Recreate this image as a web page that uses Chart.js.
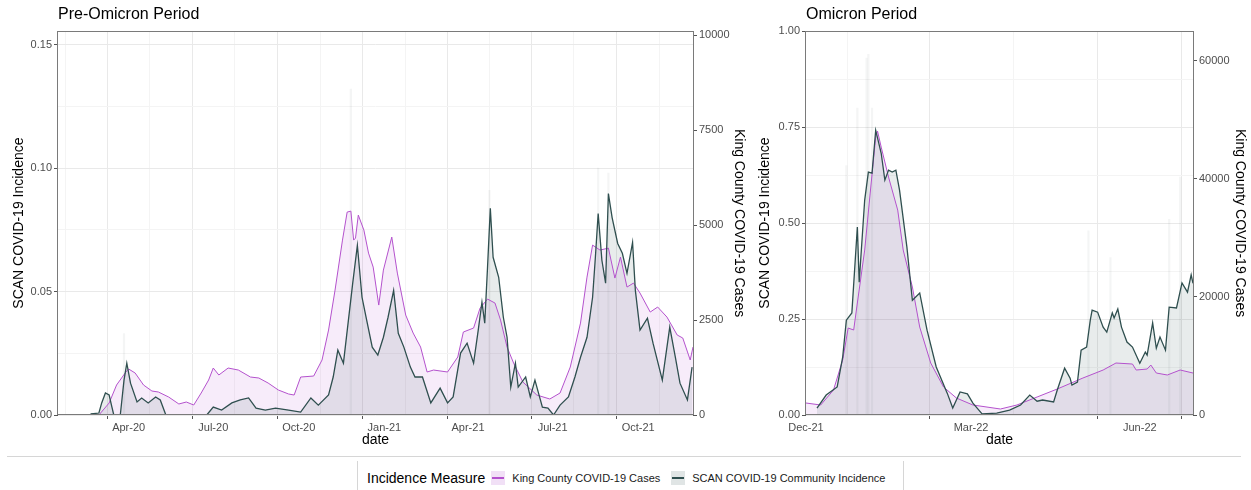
<!DOCTYPE html>
<html>
<head>
<meta charset="utf-8">
<script src="https://cdn.jsdelivr.net/npm/chart.js@4.4.1/dist/chart.umd.min.js"></script>
<style>
  html, body { margin: 0; padding: 0; background: #fff; }
  body { width: 1251px; height: 490px; position: relative; overflow: hidden;
         font-family: "Liberation Sans", Arial, Helvetica, sans-serif; }
  #pre { position: absolute; left: 0; top: 0; }
  #omi { position: absolute; left: 750px; top: 0; }
  .sep { position: absolute; left: 7px; top: 456px; width: 1234px; border-top: 1px solid #d6d6d6; }
  .legend { position: absolute; left: 357px; top: 461px; width: 545px;
            border-left: 1px solid #d6d6d6; border-right: 1px solid #d6d6d6;
            display: flex; align-items: center; height: 34px; }
  .lgTitle { font-size: 14px; color: #000; margin-left: 9px; margin-right: 6px; }
  .key { width: 14px; height: 14px; position: relative; margin-right: 7px; }
  .key::after { content: ""; position: absolute; left: 1px; right: 1px; top: 6px; height: 1.5px; background: var(--line); }
  .lgText { font-size: 11px; color: #1a1a1a; margin-right: 11px; }
</style>
</head>
<body>
<canvas id="pre" width="750" height="455"></canvas>
<canvas id="omi" width="501" height="455"></canvas>
<div class="sep"></div>
<div class="legend" id="legend"></div>

<script>
// ---------- Pre-Omicron period (days counted from preBase) ----------
const preBase = '2020-01-01';
const preRange = ['2020-01-16', '2021-11-29'];
const preTickDates = ['2020-04-01', '2020-07-01', '2020-10-01', '2021-01-01', '2021-04-01', '2021-07-01', '2021-10-01'];
const preTickLabels = ['Apr-20', 'Jul-20', 'Oct-20', 'Jan-21', 'Apr-21', 'Jul-21', 'Oct-21'];
const preIncTicks = [0, 0.05, 0.10, 0.15];
const preIncLabels = ['0.00', '0.05', '0.10', '0.15'];
const preCaseTicks = [0, 2500, 5000, 7500, 10000];

// King County COVID-19 cases (7-day average)
const preKCDays = [59, 70, 78, 88, 91, 98, 107, 116, 123, 134, 145, 153, 161, 169, 177, 182, 188, 198, 209, 222,
  231, 241, 252, 263, 269, 276, 290, 299, 306, 313, 321, 326, 330, 333, 335, 338, 344, 349, 354, 360,
  365, 374, 380, 389, 397, 405, 412, 419, 434, 445, 451, 462, 469, 477, 485, 491, 498, 505, 515, 530,
  544, 555, 566, 577, 584, 590, 598, 607, 614, 620, 627, 634, 641, 652, 660, 670, 681, 687, 695, 698];
const preKC = [0, 316, 790, 1132, 1211, 1105, 790, 632, 605, 474, 290, 342, 263, 579, 921, 1237, 1053, 1237, 1184, 1000,
  974, 842, 658, 553, 526, 1000, 1026, 1448, 2237, 3290, 4606, 5343, 5369, 4606, 4659, 5264, 4869, 4264, 3895, 2895,
  3816, 4685, 3737, 2632, 2158, 1790, 1132, 1184, 1132, 1527, 2185, 2290, 2816, 3053, 2948, 2500, 1790, 1369, 869, 526,
  421, 579, 1263, 2421, 3632, 4474, 4343, 4395, 3606, 4159, 3369, 3474, 3211, 2711, 2843, 2579, 2106, 2027, 1448, 1790];

// SCAN community incidence (smoothed)
const preScanDays = [50, 59, 62, 66, 70, 73, 75, 82, 86, 89, 93, 100, 105, 112, 120, 125, 131, 175, 182, 191,
  202, 211, 220, 228, 238, 249, 263, 276, 287, 295, 306, 311, 316, 322, 327, 332, 337, 342, 347, 353,
  359, 365, 370, 376, 381, 387, 394, 399, 407, 416, 426, 434, 440, 448, 455, 462, 467, 471, 474, 477,
  480, 483, 489, 494, 498, 502, 507, 510, 518, 523, 528, 536, 542, 548, 555, 564, 571, 577, 584, 590,
  593, 596, 600, 604, 607, 611, 617, 622, 627, 633, 636, 641, 649, 655, 665, 673, 679, 684, 692, 697];
const preScan = [0.0004, 0.0008, 0.0049, 0.0089, 0.0081, 0.0032, 0, 0, 0.0141, 0.0210, 0.0129, 0.0053, 0.0069, 0.0049, 0.0073, 0.0061, 0, 0, 0.0032, 0.0020,
  0.0049, 0.0061, 0.0069, 0.0028, 0.0020, 0.0028, 0.0020, 0.0012, 0.0069, 0.0040, 0.0081, 0.0154, 0.0263, 0.0210, 0.0372, 0.0534, 0.0687, 0.0477, 0.0384, 0.0275,
  0.0243, 0.0315, 0.0396, 0.0505, 0.0331, 0.0275, 0.0194, 0.0154, 0.0154, 0.0049, 0.0109, 0.0049, 0.0073, 0.0251, 0.0291, 0.0210, 0.0344, 0.0457, 0.0372, 0.0598,
  0.0837, 0.0639, 0.0558, 0.0396, 0.0315, 0.0113, 0.0210, 0.0113, 0.0154, 0.0073, 0.0141, 0.0032, 0.0028, 0, 0.0040, 0.0073, 0.0154, 0.0234, 0.0315, 0.0477,
  0.0639, 0.0816, 0.0627, 0.0534, 0.0897, 0.0800, 0.0695, 0.0655, 0.0574, 0.0699, 0.0505, 0.0344, 0.0392, 0.0291, 0.0141, 0.0356, 0.0234, 0.0129, 0.0061, 0.0194];

// isolated high daily SCAN readings
const preSpikeDays = [86, 330, 479, 596, 607];
const preSpike = [0.033, 0.132, 0.091, 0.100, 0.098];

// ---------- Omicron period (days counted from omiBase) ----------
const omiBase = '2021-12-01';
const omiRange = ['2021-12-01', '2022-06-30'];
const omiTickDates = ['2021-12-01', '2022-03-01', '2022-06-01'];
const omiTickLabels = ['Dec-21', 'Mar-22', 'Jun-22'];
const omiIncTicks = [0, 0.25, 0.50, 0.75, 1.00];
const omiIncLabels = ['0.00', '0.25', '0.50', '0.75', '1.00'];
const omiCaseTicks = [0, 20000, 40000, 60000];

const omiKCDays = [0, 8, 15, 20, 23, 26, 28, 32, 35, 38, 39, 41, 45, 50, 53, 58, 62, 68, 75, 82,
  91, 106, 115, 126, 137, 151, 162, 169, 178, 180, 186, 188, 191, 197, 204, 211];
const omiKC = [2032, 1693, 4233, 9312, 14729, 14391, 18962, 27935, 37585, 47065, 48081, 45372, 40293, 34707, 27935, 21670, 14898, 8804, 4740, 2878,
  1693, 1016, 1693, 3047, 4402, 6264, 7618, 8804, 8634, 7618, 7787, 8465, 7110, 6772, 7618, 7110];

const omiScanDays = [6, 11, 17, 20, 22, 25, 28, 29, 32, 34, 36, 38, 41, 43, 45, 47, 49, 51, 55, 58,
  62, 66, 71, 77, 80, 84, 88, 91, 96, 104, 111, 117, 122, 126, 129, 135, 137, 141, 144, 145,
  148, 150, 153, 155, 156, 159, 162, 164, 167, 168, 170, 172, 175, 178, 182, 185, 186, 189, 191, 193,
  196, 198, 202, 205, 208, 210, 211];
const omiScan = [0.018, 0.052, 0.073, 0.151, 0.247, 0.266, 0.490, 0.346, 0.560, 0.633, 0.630, 0.742, 0.682, 0.612, 0.638, 0.633, 0.638, 0.586, 0.438, 0.299,
  0.318, 0.221, 0.125, 0.057, 0.018, 0.060, 0.055, 0.031, 0.003, 0.005, 0.013, 0.026, 0.052, 0.036, 0.039, 0.034, 0.065, 0.122, 0.096, 0.078,
  0.086, 0.169, 0.177, 0.247, 0.273, 0.268, 0.229, 0.216, 0.266, 0.253, 0.276, 0.229, 0.190, 0.177, 0.135, 0.164, 0.156, 0.240, 0.174, 0.203,
  0.169, 0.281, 0.279, 0.344, 0.320, 0.365, 0.343];

const omiSpikeDays = [22, 28, 33, 34, 36, 154, 166, 198, 204];
const omiSpike = [0.65, 0.80, 0.93, 0.94, 0.80, 0.48, 0.41, 0.51, 0.62];

const seriesNames = ['King County COVID-19 Cases', 'SCAN COVID-19 Community Incidence'];
const legendTitle = 'Incidence Measure';

// ---------- helpers ----------
const DAY_MS = 86400000;
const dayNum = (base, iso) => Math.round((Date.parse(iso) - Date.parse(base)) / DAY_MS);
const FONT = '"Liberation Sans", Arial, Helvetica, sans-serif';
const KC_COLOR = '#B452CD';
const SCAN_COLOR = '#2F4F4F';
const MAJOR_GRID = '#e9e9e9';
const MINOR_GRID = '#f4f4f4';
const TICK_COLOR = '#555555';
const LABEL_COLOR = '#4d4d4d';
const CASES_PER_INCIDENCE = 65000;   // secondary axis factor

const pts = (xs, ys) => xs.map((x, i) => ({ x, y: ys[i] }));

// majors plus ggplot-style midpoint minor breaks within [lo, hi]
function withMinors(majors, lo, hi) {
  const out = majors.map(v => ({ value: v, minor: false }));
  const step0 = majors[1] - majors[0];
  const stepN = majors[majors.length - 1] - majors[majors.length - 2];
  const mids = [majors[0] - step0 / 2];
  for (let i = 0; i < majors.length - 1; i++) mids.push((majors[i] + majors[i + 1]) / 2);
  mids.push(majors[majors.length - 1] + stepN / 2);
  mids.forEach(v => { if (v > lo && v < hi) out.push({ value: v, minor: true }); });
  return out.sort((a, b) => a.value - b.value);
}

const gridColor = ctx => (ctx.tick && ctx.tick.minor) ? MINOR_GRID : MAJOR_GRID;
const tickMarkColor = ctx => (ctx.tick && ctx.tick.minor) ? 'rgba(0,0,0,0)' : TICK_COLOR;

const framePlugin = {
  id: 'panelFrame',
  afterDatasetsDraw(chart) {
    const a = chart.chartArea, c = chart.ctx;
    c.save();
    c.strokeStyle = '#7a7a7a';
    c.lineWidth = 1;
    c.strokeRect(Math.round(a.left) - 0.5, Math.round(a.top) + 0.5,
                 Math.round(a.right) - Math.round(a.left) + 1, Math.round(a.bottom) - Math.round(a.top) - 1);
    c.restore();
  }
};

function panel(id, p) {
  const xMin = dayNum(p.base, p.range[0]);
  const xMax = dayNum(p.base, p.range[1]);
  const xMajors = p.tickDates.map(d => dayNum(p.base, d));
  const xTicks = withMinors(xMajors, xMin, xMax);
  const incMax = p.caseMax / CASES_PER_INCIDENCE;
  const yTicks = withMinors(p.incTicks, -1e-9, incMax);
  const xLabelOf = v => { const i = xMajors.indexOf(v); return i >= 0 ? p.tickLabels[i] : ''; };
  const yLabelOf = v => { const i = p.incTicks.indexOf(v); return i >= 0 ? p.incLabels[i] : ''; };

  return new Chart(document.getElementById(id), {
    type: 'line',
    data: {
      datasets: [
        {
          type: 'bar', label: 'daily', data: pts(p.spikeDays, p.spike), yAxisID: 'yInc',
          backgroundColor: 'rgba(47,79,79,0.055)', barThickness: 1.5, order: 3
        },
        {
          label: seriesNames[1], data: pts(p.scanDays, p.scan), yAxisID: 'yInc',
          borderColor: SCAN_COLOR, borderWidth: 1.3, backgroundColor: 'rgba(47,79,79,0.11)',
          fill: 'origin', pointRadius: 0, tension: 0, order: 1
        },
        {
          label: seriesNames[0], data: pts(p.kcDays, p.kc), yAxisID: 'yCase',
          borderColor: KC_COLOR, borderWidth: 1, backgroundColor: 'rgba(180,82,205,0.11)',
          fill: 'origin', pointRadius: 0, tension: 0, order: 2
        }
      ]
    },
    options: {
      responsive: false, animation: false, devicePixelRatio: 1,
      layout: { padding: 0 },
      plugins: {
        legend: { display: false }, tooltip: { enabled: false },
        filler: { drawTime: 'beforeDatasetsDraw' },
        title: {
          display: true, text: p.title, align: 'start', fullSize: false, color: '#000',
          font: { family: FONT, size: 16, weight: 'normal', lineHeight: 1.2 },
          padding: { top: 5, bottom: 7 }
        }
      },
      scales: {
        x: {
          type: 'linear', min: xMin, max: xMax, offset: false,
          afterBuildTicks: s => { s.ticks = xTicks.map(t => ({ value: t.value, minor: t.minor })); },
          afterFit: s => { s.height = 40; },
          grid: { color: gridColor, tickColor: tickMarkColor, tickLength: 4, lineWidth: 1 },
          border: { display: false },
          ticks: {
            autoSkip: false, maxRotation: 0, padding: 2, color: LABEL_COLOR,
            font: { family: FONT, size: 11 },
            callback: (v) => xLabelOf(v)
          },
          title: { display: true, text: 'date', color: '#000', font: { family: FONT, size: 14 }, padding: { top: 0, bottom: 6 } }
        },
        yInc: {
          type: 'linear', position: 'left', min: 0, max: incMax,
          afterBuildTicks: s => { s.ticks = yTicks.map(t => ({ value: t.value, minor: t.minor })); },
          afterFit: s => { s.width = p.leftWidth; },
          grid: { color: gridColor, tickColor: tickMarkColor, tickLength: 4 },
          border: { display: false },
          ticks: {
            autoSkip: false, padding: 2, color: LABEL_COLOR, font: { family: FONT, size: 11 },
            callback: (v) => yLabelOf(v)
          },
          title: { display: true, text: 'SCAN COVID-19 Incidence', color: '#000', font: { family: FONT, size: 14 }, padding: { top: p.leftTitlePad, bottom: 0 } }
        },
        yCase: {
          type: 'linear', position: 'right', min: 0, max: p.caseMax,
          afterBuildTicks: s => { s.ticks = p.caseTicks.map(v => ({ value: v })); },
          afterFit: s => { s.width = p.rightWidth; },
          grid: { drawOnChartArea: false, tickColor: TICK_COLOR, tickLength: 4 },
          border: { display: false },
          ticks: {
            autoSkip: false, padding: 2, color: LABEL_COLOR, font: { family: FONT, size: 11 },
            callback: (v) => String(v)
          },
          title: { display: true, text: 'King County COVID-19 Cases', color: '#000', font: { family: FONT, size: 14 }, padding: { top: 2.5, bottom: 0 } }
        }
      }
    },
    plugins: [framePlugin]
  });
}

panel('pre', {
  title: 'Pre-Omicron Period', base: preBase, range: preRange,
  tickDates: preTickDates, tickLabels: preTickLabels,
  incTicks: preIncTicks, incLabels: preIncLabels, caseTicks: preCaseTicks, caseMax: 10107,
  kcDays: preKCDays, kc: preKC, scanDays: preScanDays, scan: preScan,
  spikeDays: preSpikeDays, spike: preSpike,
  leftWidth: 58, rightWidth: 57, leftTitlePad: 10.5
});

panel('omi', {
  title: 'Omicron Period', base: omiBase, range: omiRange,
  tickDates: omiTickDates, tickLabels: omiTickLabels,
  incTicks: omiIncTicks, incLabels: omiIncLabels, caseTicks: omiCaseTicks, caseMax: 65000,
  kcDays: omiKCDays, kc: omiKC, scanDays: omiScanDays, scan: omiScan,
  spikeDays: omiSpikeDays, spike: omiSpike,
  leftWidth: 56, rightWidth: 58, leftTitlePad: 6.5
});

// shared legend
const lg = document.getElementById('legend');
const keyFills = ['rgba(180,82,205,0.18)', 'rgba(47,79,79,0.15)'];
const keyLines = [KC_COLOR, SCAN_COLOR];
let html = '<span class="lgTitle">' + legendTitle + '</span>';
seriesNames.forEach((name, i) => {
  html += '<span class="key" style="background:' + keyFills[i] + ';--line:' + keyLines[i] + '"></span>' +
          '<span class="lgText">' + name + '</span>';
});
lg.innerHTML = html;
</script>
</body>
</html>
